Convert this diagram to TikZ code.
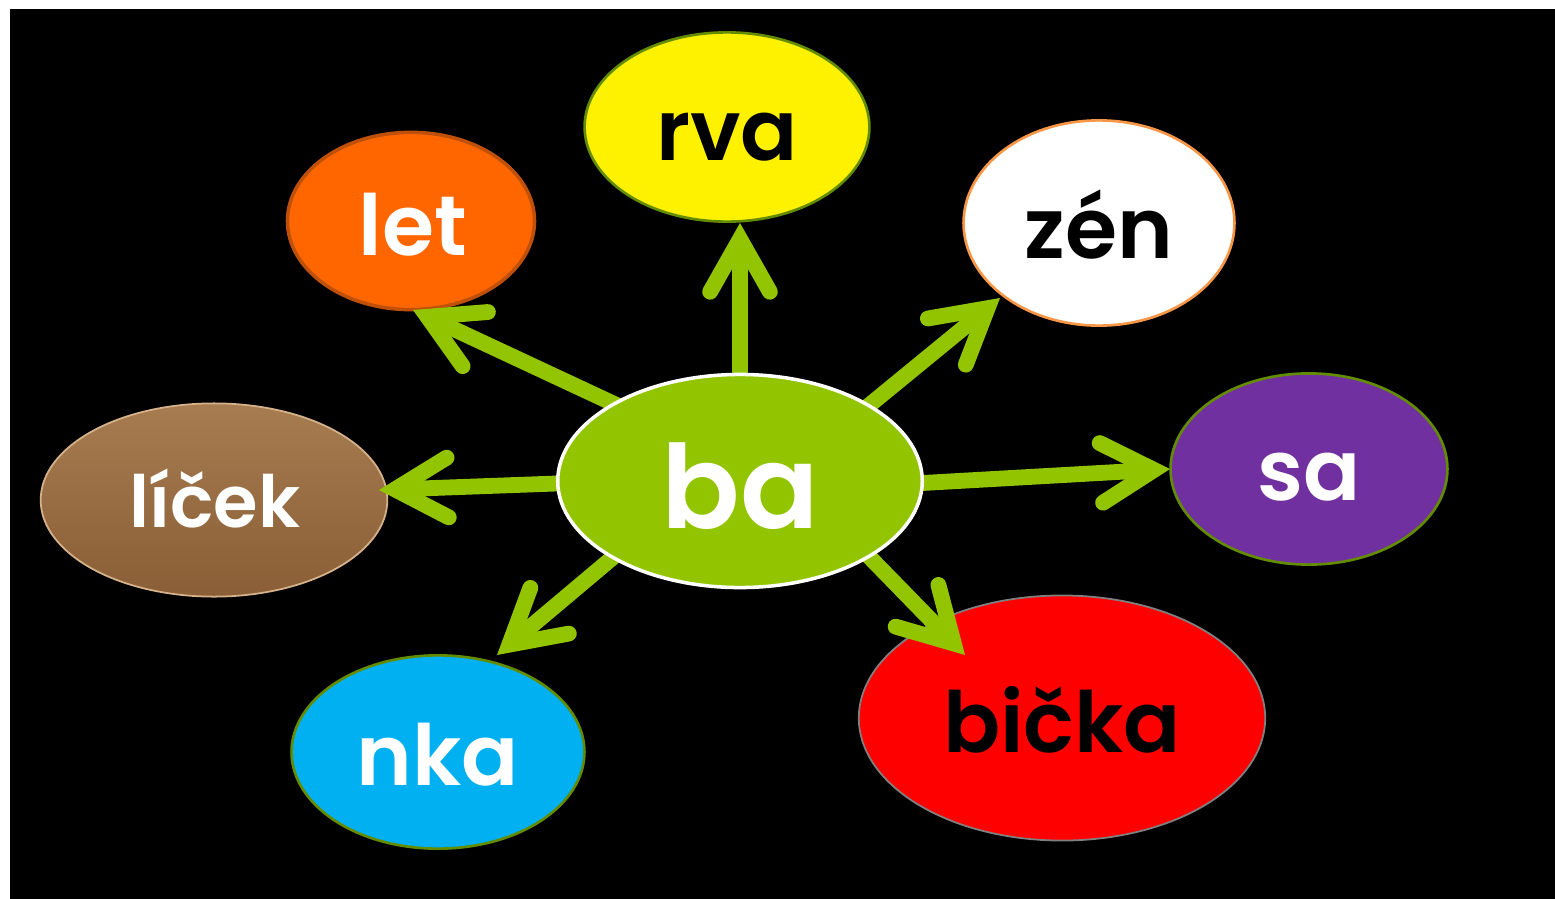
\documentclass[tikz,border=0pt]{standalone}
\usepackage{fontspec}
\setmainfont{Poppins}[BoldFont={Poppins SemiBold}]
\usetikzlibrary{shapes.geometric,arrows.meta}
\definecolor{grn}{RGB}{146,196,0}
\definecolor{olive}{RGB}{100,140,0}
\definecolor{orng}{RGB}{255,102,0}
\definecolor{orngdk}{RGB}{190,80,10}
\definecolor{zenedge}{RGB}{247,150,70}
\definecolor{purp}{RGB}{112,48,160}
\definecolor{cyanb}{RGB}{0,176,240}
\definecolor{browntop}{RGB}{166,124,80}
\definecolor{brownbot}{RGB}{138,94,54}
\definecolor{brownedge}{RGB}{214,178,138}
\tikzset{
  px/.style={x=0.02cm,y=-0.02cm},
  blob/.style={ellipse,inner sep=0pt,line width=1.5pt},
  lbl/.style={anchor=base,inner sep=0pt,font=\bfseries\fontsize{48}{48}\selectfont},
  garrow/.style={draw=grn,line width=9pt,
    -{Straight Barb[length=30pt,width=34pt,line cap=round,line join=miter]}}
}
\begin{document}
\begin{tikzpicture}[px]
\useasboundingbox (0,0) rectangle (1555,899);
\fill[white] (0,0) rectangle (1555,899);
\fill[black] (10,8.5) rectangle (1555,899);
% outer ellipses
\node[blob,fill=orng,draw=orngdk,line width=2pt,minimum width=140.6pt,minimum height=100.9pt] (let) at (411,221) {};
\node[blob,fill=yellow,draw=olive,minimum width=162.1pt,minimum height=107.7pt] (rva) at (727,127) {};
\node[blob,fill=white,draw=zenedge,minimum width=154.2pt,minimum height=116.8pt] (zen) at (1099,223) {};
\node[blob,fill=purp,draw=olive,minimum width=157.6pt,minimum height=108.8pt] (sa) at (1309,469) {};
\node[blob,fill=red,draw=gray,line width=1pt,minimum width=231.3pt,minimum height=139.5pt] (bicka) at (1062,718) {};
\node[blob,fill=cyanb,draw=olive,minimum width=166.7pt,minimum height=110pt] (nka) at (438,752) {};
\node[blob,top color=browntop,bottom color=brownbot,draw=brownedge,line width=1pt,minimum width=197.3pt,minimum height=110pt] (licek) at (214,500) {};
% connector end points
\coordinate (sLet) at (640,416);   \coordinate (tLet) at (413,310);
\coordinate (sRva) at (740,390);   \coordinate (tRva) at (740,223);
\coordinate (sZen) at (850,421);   \coordinate (tZen) at (1000,298);
\coordinate (sLic) at (570,483);   \coordinate (tLic) at (379,490);
\coordinate (sSa) at (905,484);    \coordinate (tSa) at (1170,469);
\coordinate (sBic) at (850,537);   \coordinate (tBic) at (965,655);
\coordinate (sNka) at (630,543);   \coordinate (tNka) at (497,655);
\draw[garrow] (sLet) -- (tLet);
\draw[garrow] (sRva) -- (tRva);
\draw[garrow] (sZen) -- (tZen);
\draw[garrow] (sLic) -- (tLic);
\draw[garrow] (sSa) -- (tSa);
\draw[garrow] (sBic) -- (tBic);
\draw[garrow] (sNka) -- (tNka);
% centre
\node[blob,fill=grn,draw=white,line width=2pt,minimum width=207.5pt,minimum height=121.3pt] (ba) at (740,481) {};
% labels
\node[lbl,text=white,font=\bfseries\fontsize{66}{66}\selectfont] (tba) at (740,528) {ba};
\node[lbl,text=white] (tlet) at (413,255) {let};
\node[lbl,text=black] (trva) at (727,160) {rva};
\node[lbl,text=black] (tzen) at (1099,258) {zén};
\node[lbl,text=white] (tsa) at (1309,500) {sa};
\node[lbl,text=black] (tbicka) at (1062,752) {bička};
\node[lbl,text=white] (tnka) at (438,785) {nka};
\node[lbl,text=white,font=\bfseries\fontsize{41}{41}\selectfont] (tlicek) at (215,527) {líček};
\end{tikzpicture}
\end{document}
